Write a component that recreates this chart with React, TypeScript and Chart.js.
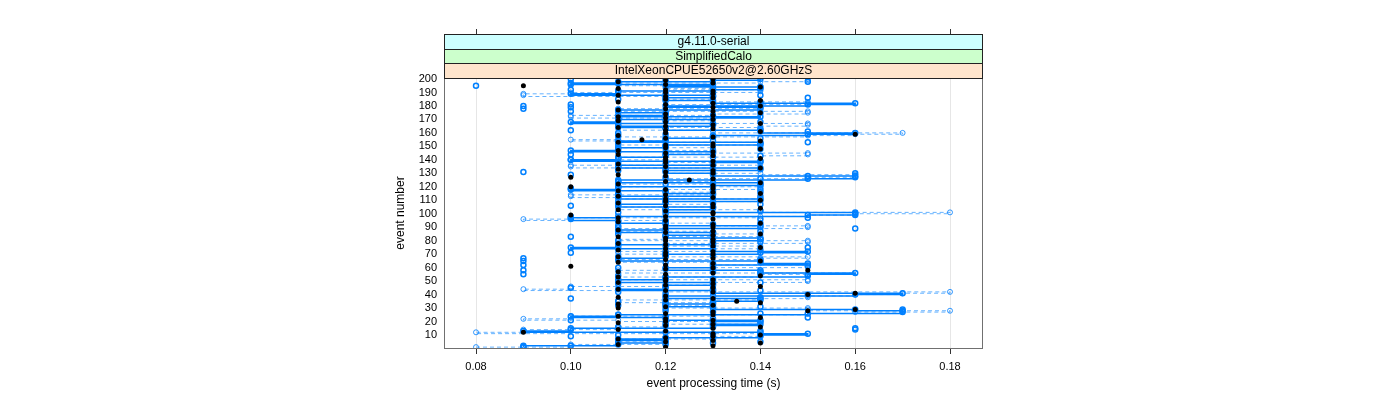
import React, { useEffect, useRef } from "react";
import { Chart, registerables } from "chart.js";

Chart.register(...registerables);

const EVENTS: number[] = Array.from({ length: 200 }, (_, i) => i + 1);

// event processing time in ms, events 1..200
const RUN_SOLID: number[] = [
  90, 90, 110, 110, 120, 120, 110, 120, 140, 140,
  150, 140, 90, 100, 100, 130, 130, 140, 130, 130,
  140, 120, 120, 100, 110, 150, 170, 170, 160, 130,
  130, 120, 120, 130, 130, 140, 140, 120, 120, 160,
  170, 130, 130, 110, 120, 120, 120, 130, 130, 110,
  110, 120, 120, 150, 150, 160, 140, 140, 120, 120,
  130, 130, 150, 140, 140, 110, 110, 120, 120, 120,
  140, 150, 130, 130, 100, 110, 110, 130, 130, 130,
  140, 140, 120, 120, 130, 130, 110, 110, 120, 140,
  140, 120, 120, 110, 110, 100, 100, 110, 150, 160,
  160, 120, 120, 130, 130, 110, 110, 120, 120, 140,
  140, 110, 110, 130, 130, 120, 120, 100, 110, 110,
  130, 140, 140, 110, 110, 150, 160, 160, 130, 130,
  120, 120, 140, 140, 110, 110, 130, 130, 140, 100,
  110, 110, 120, 120, 130, 130, 100, 110, 110, 120,
  120, 140, 140, 110, 120, 120, 130, 130, 150, 160,
  140, 140, 120, 120, 110, 130, 130, 100, 110, 110,
  130, 140, 110, 120, 120, 110, 110, 140, 140, 120,
  150, 160, 130, 130, 120, 120, 130, 130, 100, 110,
  110, 130, 140, 140, 120, 130, 100, 110, 130, 140,
];

const RUN_DASHED: number[] = [
  80, 100, 100, 120, 120, 110, 110, 130, 130, 140,
  140, 80, 90, 90, 110, 110, 120, 120, 140, 140,
  110, 90, 100, 100, 130, 150, 160, 180, 150, 150,
  120, 120, 130, 130, 110, 110, 140, 150, 150, 160,
  170, 180, 120, 90, 100, 100, 120, 130, 130, 150,
  150, 110, 110, 140, 140, 160, 110, 110, 120, 120,
  150, 150, 130, 130, 110, 110, 140, 150, 120, 120,
  110, 110, 130, 130, 140, 140, 120, 120, 150, 150,
  110, 120, 120, 140, 140, 130, 130, 110, 110, 150,
  150, 130, 130, 120, 120, 90, 100, 140, 150, 160,
  180, 140, 140, 110, 110, 130, 130, 120, 120, 140,
  140, 110, 100, 100, 130, 130, 120, 120, 140, 140,
  110, 110, 130, 130, 120, 120, 150, 160, 160, 140,
  120, 120, 130, 130, 100, 100, 140, 140, 120, 120,
  110, 110, 140, 150, 150, 120, 120, 130, 130, 110,
  110, 140, 140, 120, 100, 110, 110, 150, 160, 170,
  130, 130, 110, 110, 140, 150, 150, 120, 120, 130,
  130, 100, 100, 130, 150, 150, 110, 110, 140, 140,
  120, 150, 150, 130, 130, 120, 120, 90, 90, 100,
  140, 140, 120, 130, 130, 110, 110, 140, 150, 150,
];

const RUN_POINTS: number[] = [
  90, 100, 120, 130, 140, 110, 130, 120, 100, 110,
  130, 120, 140, 160, 160, 110, 120, 130, 120, 140,
  100, 130, 150, 120, 110, 140, 130, 120, 170, 120,
  140, 110, 130, 120, 110, 120, 100, 140, 130, 150,
  120, 110, 140, 130, 100, 120, 130, 110, 140, 130,
  120, 130, 120, 110, 90, 140, 130, 90, 130, 110,
  150, 90, 130, 120, 90, 140, 90, 110, 130, 120,
  100, 120, 140, 110, 150, 120, 130, 110, 140, 110,
  140, 130, 100, 120, 110, 130, 140, 120, 160, 110,
  110, 130, 140, 120, 120, 140, 150, 100, 160, 120,
  110, 140, 120, 120, 130, 100, 140, 130, 110, 120,
  130, 120, 140, 110, 110, 140, 130, 140, 100, 110,
  140, 120, 130, 110, 130, 140, 120, 150, 100, 160,
  90, 110, 130, 120, 110, 130, 120, 110, 140, 100,
  110, 130, 140, 100, 120, 110, 130, 140, 120, 120,
  140, 110, 150, 130, 120, 140, 130, 110, 120, 110,
  150, 100, 140, 120, 110, 130, 110, 140, 120, 110,
  110, 120, 130, 120, 140, 100, 110, 90, 100, 90,
  100, 140, 140, 120, 110, 150, 130, 140, 120, 130,
  110, 100, 130, 140, 80, 100, 110, 150, 120, 100,
];

const RUN_BLACK: number[] = [
  120, 130, 110, 140, 120, 130, 110, 120, 130, 140,
  130, 90, 120, 110, 130, 140, 120, 130, 110, 120,
  130, 120, 140, 110, 130, 120, 130, 150, 160, 110,
  120, 130, 110, 140, 135, 120, 130, 110, 120, 150,
  160, 130, 120, 110, 130, 140, 120, 130, 110, 120,
  130, 120, 110, 140, 120, 130, 110, 150, 120, 130,
  100, 120, 130, 110, 140, 120, 130, 110, 120, 130,
  120, 130, 110, 120, 140, 130, 120, 110, 130, 120,
  130, 120, 110, 130, 140, 120, 130, 110, 120, 130,
  120, 130, 140, 110, 120, 130, 110, 120, 100, 130,
  130, 120, 110, 140, 130, 120, 130, 110, 120, 140,
  120, 130, 110, 120, 140, 130, 110, 120, 130, 100,
  130, 110, 140, 120, 125, 130, 100, 120, 110, 130,
  120, 130, 110, 140, 120, 130, 110, 120, 130, 120,
  140, 120, 130, 110, 120, 130, 110, 140, 120, 130,
  120, 130, 110, 140, 115, 120, 130, 110, 160, 120,
  140, 120, 130, 110, 120, 130, 140, 120, 110, 130,
  120, 110, 130, 120, 140, 130, 110, 120, 130, 140,
  120, 130, 110, 140, 120, 130, 120, 110, 130, 120,
  130, 120, 110, 140, 90, 120, 130, 110, 120, 130,
];

const X_TICKS: number[] = [0.08, 0.1, 0.12, 0.14, 0.16, 0.18];
const Y_TICKS: number[] = [10, 20, 30, 40, 50, 60, 70, 80, 90, 100, 110, 120, 130, 140, 150, 160, 170, 180, 190, 200];
const STRIP_LABELS: string[] = ["g4.11.0-serial", "SimplifiedCalo", "IntelXeonCPUE52650v2@2.60GHzS"];
const STRIP_COLORS: string[] = ["#ccffff", "#ccffcc", "#ffe5cc"];
const X_TITLE = "event processing time (s)";
const Y_TITLE = "event number";

const FONT = "'Liberation Sans', Arial, Helvetica, sans-serif";

const toPoints = (vals: number[]) => vals.map((v, i) => ({ x: v / 1000, y: EVENTS[i] }));

const latticePlugin = {
  id: "lattice",
  afterDatasetsDraw(chart: any) {
    const { ctx, chartArea } = chart;
    const { left, right, top, bottom } = chartArea;
    const xs = chart.scales.x;
    ctx.save();
    ctx.strokeStyle = "#707070";
    ctx.lineWidth = 1;
    ctx.strokeRect(left + 0.5, top + 0.5, right - left - 1, bottom - top);
    const stripH = 14.7;
    const stripTop = top - stripH * STRIP_LABELS.length;
    ctx.font = `12px ${FONT}`;
    ctx.textAlign = "center";
    ctx.textBaseline = "middle";
    STRIP_LABELS.forEach((label, i) => {
      const y0 = Math.round(stripTop + i * stripH);
      const y1 = Math.round(stripTop + (i + 1) * stripH);
      ctx.fillStyle = STRIP_COLORS[i];
      ctx.fillRect(left, y0, right - left, y1 - y0);
      ctx.strokeStyle = "#222";
      ctx.strokeRect(left + 0.5, y0 + 0.5, right - left - 1, y1 - y0);
      ctx.fillStyle = "#000";
      ctx.fillText(label, (left + right) / 2, (y0 + y1) / 2 + 0.5);
    });
    const tickBase = Math.round(stripTop);
    ctx.strokeStyle = "#333";
    X_TICKS.forEach((t) => {
      const px = Math.round(xs.getPixelForValue(t)) + 0.5;
      ctx.beginPath();
      ctx.moveTo(px, tickBase);
      ctx.lineTo(px, tickBase - 5);
      ctx.stroke();
    });
    ctx.restore();
  },
};

export default function App() {
  const ref = useRef<HTMLCanvasElement | null>(null);

  useEffect(() => {
    document.body.style.margin = "0";
    const canvas = ref.current;
    if (!canvas) return;
    const chart = new Chart(canvas, {
      type: "scatter",
      data: {
        datasets: [
          {
            label: "black",
            data: toPoints(RUN_BLACK),
            showLine: false,
            pointRadius: 2.5,
            pointBackgroundColor: "#000",
            pointBorderColor: "#000",
            pointBorderWidth: 0,
          },
          {
            label: "solid",
            data: toPoints(RUN_SOLID),
            showLine: true,
            stepped: true,
            borderColor: "#0080ff",
            borderWidth: 1.5,
            pointRadius: 2.5,
            pointBackgroundColor: "rgba(255,255,255,0)",
            pointBorderColor: "#0080ff",
            pointBorderWidth: 1.5,
          },
          {
            label: "points",
            data: toPoints(RUN_POINTS),
            showLine: false,
            pointRadius: 2.5,
            pointBackgroundColor: "rgba(255,255,255,0)",
            pointBorderColor: "#0080ff",
            pointBorderWidth: 1.5,
          },
          {
            label: "dashed",
            data: toPoints(RUN_DASHED),
            showLine: true,
            stepped: true,
            borderColor: "rgba(0,128,255,0.6)",
            borderWidth: 1,
            borderDash: [4, 3],
            pointRadius: 2.5,
            pointBackgroundColor: "rgba(255,255,255,0)",
            pointBorderColor: "rgba(0,128,255,0.8)",
            pointBorderWidth: 1,
          },
        ],
      },
      options: {
        responsive: false,
        animation: false,
        devicePixelRatio: 1,
        layout: { padding: { left: 389, right: 417, top: 78, bottom: 5 } },
        plugins: {
          legend: { display: false },
          tooltip: { enabled: false },
        },
        scales: {
          x: {
            type: "linear",
            min: 0.073249,
            max: 0.18696,
            afterBuildTicks: (s: any) => {
              s.ticks = X_TICKS.map((v) => ({ value: v }));
            },
            afterFit: (s: any) => {
              s.height = 47;
            },
            border: { display: false },
            grid: {
              color: "#e6e6e6",
              lineWidth: 1,
              drawTicks: true,
              tickLength: 6,
              tickColor: "#333",
            },
            ticks: {
              padding: 6,
              color: "#000",
              font: { family: FONT, size: 11 },
              maxRotation: 0,
              autoSkip: false,
              callback: (v: any) => Number(v).toFixed(2),
            },
            title: {
              display: true,
              text: X_TITLE,
              color: "#000",
              font: { family: FONT, size: 12 },
              padding: { top: 4, bottom: 4 },
            },
          },
          y: {
            type: "linear",
            min: 0.35,
            max: 200.74,
            afterBuildTicks: (s: any) => {
              s.ticks = Y_TICKS.map((v) => ({ value: v }));
            },
            afterFit: (s: any) => {
              s.width = 55;
            },
            border: { display: false },
            grid: { display: false, drawTicks: false },
            ticks: {
              padding: 7,
              color: "#000",
              font: { family: FONT, size: 11 },
              autoSkip: false,
            },
            title: {
              display: true,
              text: Y_TITLE,
              color: "#000",
              font: { family: FONT, size: 12 },
              padding: { top: 4, bottom: 4 },
            },
          },
        },
      },
      plugins: [latticePlugin],
    });
    return () => chart.destroy();
  }, []);

  return (
    <div style={{ width: 1400, height: 400 }}>
      <canvas ref={ref} width={1400} height={400} style={{ width: 1400, height: 400, display: "block" }} />
    </div>
  );
}
